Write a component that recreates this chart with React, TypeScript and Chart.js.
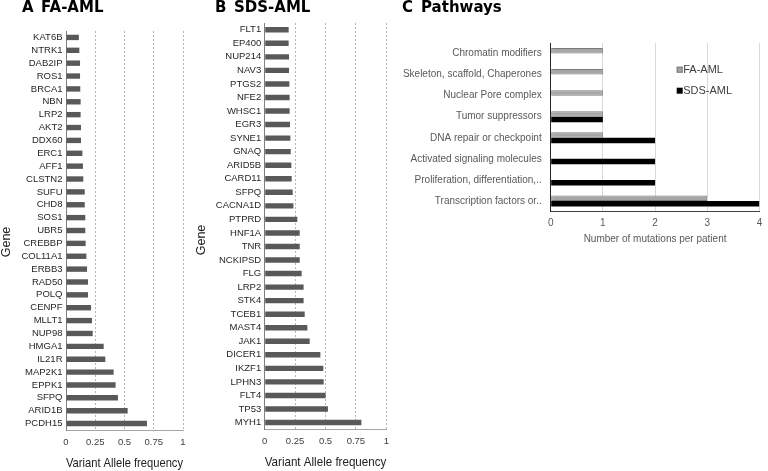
import React, { useEffect, useRef } from "react";
import { Chart, registerables } from "chart.js";

Chart.register(...registerables);

const FONT = '"Liberation Sans", Arial, Helvetica, sans-serif';
Chart.defaults.font.family = FONT;

// Panel A: FA-AML
const faGenes = ["KAT6B", "NTRK1", "DAB2IP", "ROS1", "BRCA1", "NBN", "LRP2", "AKT2", "DDX60", "ERC1", "AFF1", "CLSTN2", "SUFU", "CHD8", "SOS1", "UBR5", "CREBBP", "COL11A1", "ERBB3", "RAD50", "POLQ", "CENPF", "MLLT1", "NUP98", "HMGA1", "IL21R", "MAP2K1", "EPPK1", "SFPQ", "ARID1B", "PCDH15"];
const faVaf = [0.11, 0.114, 0.12, 0.12, 0.122, 0.125, 0.125, 0.128, 0.128, 0.14, 0.145, 0.148, 0.16, 0.16, 0.165, 0.165, 0.168, 0.174, 0.18, 0.188, 0.188, 0.214, 0.222, 0.228, 0.322, 0.336, 0.407, 0.424, 0.444, 0.527, 0.692];

// Panel B: SDS-AML
const sdsGenes = ["FLT1", "EP400", "NUP214", "NAV3", "PTGS2", "NFE2", "WHSC1", "EGR3", "SYNE1", "GNAQ", "ARID5B", "CARD11", "SFPQ", "CACNA1D", "PTPRD", "HNF1A", "TNR", "NCKIPSD", "FLG", "LRP2", "STK4", "TCEB1", "MAST4", "JAK1", "DICER1", "IKZF1", "LPHN3", "FLT4", "TP53", "MYH1"];
const sdsVaf = [0.197, 0.197, 0.2, 0.2, 0.203, 0.205, 0.205, 0.208, 0.211, 0.214, 0.219, 0.222, 0.23, 0.236, 0.268, 0.288, 0.288, 0.288, 0.304, 0.32, 0.32, 0.329, 0.351, 0.37, 0.458, 0.482, 0.485, 0.501, 0.52, 0.795];

const vafTicks = [0, 0.25, 0.5, 0.75, 1];

// Panel C: Pathways
const pathways = ["Chromatin modifiers", "Skeleton, scaffold, Chaperones", "Nuclear Pore complex", "Tumor suppressors", "DNA repair or checkpoint", "Activated signaling molecules", "Proliferation, differentiation,..", "Transcription factors or.."];
const faPathwayCounts = [1, 1, 1, 1, 1, 0, 0, 3];
const sdsPathwayCounts = [0, 0, 0, 1, 2, 2, 2, 4];
const countTicks = [0, 1, 2, 3, 4];

function vafConfig(labels: string[], values: number[], yWidth: number, xHeight: number, pad: any, barPct: number) {
  return {
    type: "bar",
    data: {
      labels,
      datasets: [
        {
          data: values,
          backgroundColor: "#595959",
          borderWidth: 0,
          barPercentage: barPct,
          categoryPercentage: 1,
        },
      ],
    },
    options: {
      indexAxis: "y",
      responsive: false,
      maintainAspectRatio: false,
      animation: false,
      layout: { padding: pad },
      plugins: { legend: { display: false }, tooltip: { enabled: false } },
      scales: {
        x: {
          type: "linear",
          min: 0,
          max: 1,
          afterBuildTicks: (s: any) => {
            s.ticks = vafTicks.map((v) => ({ value: v }));
          },
          afterFit: (s: any) => {
            s.height = xHeight;
          },
          ticks: {
            font: { size: 9.5 },
            color: "#404040",
            padding: 6.3,
            maxRotation: 0,
            callback: (v: any) => String(Number(v)),
          },
          grid: {
            drawTicks: false,
            lineWidth: 1,
            color: (ctx: any) => (ctx.tick && ctx.tick.value === 0 ? "rgba(0,0,0,0)" : "#b4b4b4"),
          },
          border: { color: "#a6a6a6", width: 1, dash: [2, 2] },
          title: {
            display: true,
            text: "Variant Allele frequency",
            font: { size: 13 },
            color: "#222222",
            padding: 0,
          },
        },
        y: {
          afterFit: (s: any) => {
            s.width = yWidth;
          },
          ticks: { autoSkip: false, font: { size: 9.5 }, color: "#262626", padding: 3.5 },
          grid: { display: false, drawTicks: false },
          border: { color: "#7f7f7f", width: 1 },
        },
      },
    },
  };
}

const insideLegend = {
  id: "insideLegend",
  afterDraw(chart: any) {
    const { ctx, chartArea } = chart;
    ctx.save();
    chart.data.datasets.forEach((ds: any, i: number) => {
      const x = chartArea.left + 126;
      const y = chartArea.top + 26.7 + i * 21;
      ctx.fillStyle = ds.backgroundColor;
      ctx.fillRect(x, y - 3, 6, 6);
      if (ds.borderWidth) {
        ctx.strokeStyle = ds.borderColor;
        ctx.lineWidth = 1;
        ctx.strokeRect(x + 0.5, y - 2.5, 5, 5);
      }
      ctx.fillStyle = "#404040";
      ctx.font = `11px ${FONT}`;
      ctx.textBaseline = "middle";
      ctx.textAlign = "left";
      ctx.fillText(ds.label, x + 6.5, y);
    });
    ctx.restore();
  },
};

function pathwayConfig() {
  return {
    type: "bar",
    data: {
      labels: pathways,
      datasets: [
        {
          label: "FA-AML",
          data: faPathwayCounts,
          backgroundColor: "#a6a6a6",
          borderColor: "#7a7a7a",
          borderWidth: 1,
          borderSkipped: false,
          barPercentage: 1,
          categoryPercentage: 0.52,
        },
        {
          label: "SDS-AML",
          data: sdsPathwayCounts,
          backgroundColor: "#000000",
          borderWidth: 0,
          barPercentage: 1,
          categoryPercentage: 0.52,
        },
      ],
    },
    plugins: [insideLegend],
    options: {
      indexAxis: "y",
      responsive: false,
      maintainAspectRatio: false,
      animation: false,
      layout: { padding: { top: 43, right: 2.3, bottom: 5, left: 0 } },
      plugins: { legend: { display: false }, tooltip: { enabled: false } },
      scales: {
        x: {
          type: "linear",
          min: 0,
          max: 4,
          afterBuildTicks: (s: any) => {
            s.ticks = countTicks.map((v) => ({ value: v }));
          },
          afterFit: (s: any) => {
            s.height = 33.5;
          },
          ticks: {
            font: { size: 10 },
            color: "#595959",
            padding: 5.8,
            maxRotation: 0,
            callback: (v: any) => String(Number(v)),
          },
          grid: {
            drawTicks: false,
            lineWidth: 1,
            color: (ctx: any) => (ctx.tick && ctx.tick.value === 0 ? "rgba(0,0,0,0)" : "#d9d9d9"),
          },
          border: { color: "#404040", width: 1 },
          title: {
            display: true,
            text: "Number of mutations per patient",
            font: { size: 10 },
            color: "#595959",
            padding: 0,
          },
        },
        y: {
          afterFit: (s: any) => {
            s.width = 150.7;
          },
          ticks: { autoSkip: false, font: { size: 10 }, color: "#595959", padding: 9 },
          grid: { display: false, drawTicks: false },
          border: { color: "#262626", width: 1 },
        },
      },
    },
  };
}

function ChartCanvas({ makeConfig, left, top, width, height }: any) {
  const ref = useRef<HTMLCanvasElement | null>(null);
  useEffect(() => {
    const chart = new Chart(ref.current as HTMLCanvasElement, makeConfig());
    return () => chart.destroy();
  }, []);
  return (
    <canvas
      ref={ref}
      width={width}
      height={height}
      style={{ position: "absolute", left, top, width, height }}
    />
  );
}

const titleStyle: React.CSSProperties = {
  position: "absolute",
  top: 0,
  fontFamily: '"DejaVu Sans", Arial, sans-serif',
  fontWeight: "bold",
  fontSize: 15,
  lineHeight: "15px",
  color: "#000",
  whiteSpace: "pre",
};

const geneStyle = (cx: number, cy: number): React.CSSProperties => ({
  position: "absolute",
  left: cx,
  top: cy,
  transform: "translate(-50%, -50%) rotate(-90deg)",
  fontFamily: FONT,
  fontSize: 12.5,
  color: "#222",
  whiteSpace: "nowrap",
  lineHeight: "14px",
});

export default function App() {
  return (
    <div
      style={{
        position: "fixed",
        left: 0,
        top: 0,
        width: 768,
        height: 471,
        overflow: "hidden",
        background: "#ffffff",
      }}
    >
      <ChartCanvas
        makeConfig={() => vafConfig(faGenes, faVaf, 66, 40.8, { top: 31, right: 12, bottom: 0.2, left: 0 }, 0.42)}
        left={0}
        top={0}
        width={195}
        height={471}
      />
      <ChartCanvas
        makeConfig={() => vafConfig(sdsGenes, sdsVaf, 69.7, 40.5, { top: 23, right: 13.7, bottom: 1.2, left: 0 }, 0.4)}
        left={195}
        top={0}
        width={205}
        height={471}
      />
      <ChartCanvas makeConfig={pathwayConfig} left={400} top={0} width={368} height={250} />

      <div style={{ ...titleStyle, left: 22 }}>A</div>
      <div style={{ ...titleStyle, left: 41 }}>FA-AML</div>
      <div style={{ ...titleStyle, left: 215 }}>B</div>
      <div style={{ ...titleStyle, left: 234 }}>SDS-AML</div>
      <div style={{ ...titleStyle, left: 402 }}>C</div>
      <div style={{ ...titleStyle, left: 421 }}>Pathways</div>

      <div style={geneStyle(6, 242)}>Gene</div>
      <div style={geneStyle(201, 240)}>Gene</div>
    </div>
  );
}
